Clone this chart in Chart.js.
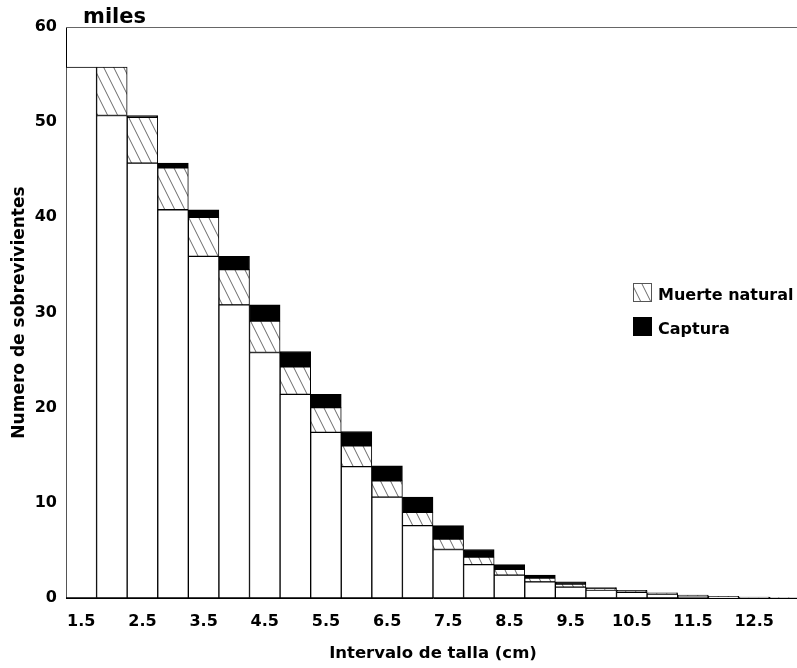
<!DOCTYPE html>
<html>
<head>
<meta charset="utf-8">
<script src="https://cdn.jsdelivr.net/npm/chart.js@4.4.1/dist/chart.umd.min.js"></script>
<style>
  body { margin: 0; background: #fff; overflow: hidden; }
  #wrap { width: 797px; height: 668px; overflow: hidden; }
</style>
</head>
<body>
<div id="wrap"><canvas id="myChart" width="800" height="668"></canvas></div>
<script>
// talla (cm), one bar per 0.5 cm class
const tallas = ["1.5","2.0","2.5","3.0","3.5","4.0","4.5","5.0","5.5","6.0","6.5","7.0",
  "7.5","8.0","8.5","9.0","9.5","10.0","10.5","11.0","11.5","12.0","12.5","13.0"];

// miles de individuos
const sobrevivientes = [55.8, 50.7, 45.7, 40.8, 35.9, 30.8, 25.8, 21.4, 17.4, 13.8, 10.6, 7.6,
  5.1, 3.5, 2.4, 1.7, 1.15, 0.84, 0.6, 0.4, 0.22, 0.12, 0.06, 0.03];
const muerteNatural = [0, 5.1, 4.8, 4.4, 4.1, 3.7, 3.3, 2.9, 2.6, 2.2, 1.7, 1.4,
  1.1, 0.8, 0.6, 0.4, 0.3, 0.12, 0.1, 0.07, 0.04, 0.03, 0.02, 0.01];
const captura = [0, 0, 0.2, 0.5, 0.8, 1.4, 1.7, 1.6, 1.4, 1.5, 1.6, 1.6,
  1.4, 0.8, 0.5, 0.3, 0.25, 0.14, 0.1, 0.07, 0.04, 0.03, 0.02, 0.01];

const yTicks = [0, 10, 20, 30, 40, 50, 60];

const FONT = "'DejaVu Sans', sans-serif";

function makeHatch() {
  const c = document.createElement("canvas");
  c.width = 10;
  c.height = 20;
  const g = c.getContext("2d");
  g.fillStyle = "#fff";
  g.fillRect(0, 0, 10, 20);
  g.strokeStyle = "#444";
  g.lineWidth = 0.8;
  g.beginPath();
  g.moveTo(-1, -2); g.lineTo(11, 22);
  g.moveTo(-11, -2); g.lineTo(1, 22);
  g.moveTo(9, -2); g.lineTo(21, 22);
  g.stroke();
  return g.createPattern(c, "repeat");
}

const ctx = document.getElementById("myChart").getContext("2d");
const hatch = makeHatch();

const extras = {
  id: "extras",
  afterDraw(chart) {
    const c = chart.ctx;
    const a = chart.chartArea;
    c.save();
    // top frame line
    c.strokeStyle = "#666";
    c.lineWidth = 1;
    c.beginPath();
    c.moveTo(a.left, a.top + 0.5);
    c.lineTo(a.right, a.top + 0.5);
    c.stroke();
    // unit label
    c.fillStyle = "#000";
    c.font = "bold 21px " + FONT;
    c.textBaseline = "alphabetic";
    c.textAlign = "left";
    c.fillText("miles", 83, 23);
    // legend
    c.fillStyle = hatch;
    c.fillRect(633, 283, 18, 18);
    c.strokeStyle = "#555";
    c.strokeRect(633.5, 283.5, 18, 18);
    c.fillStyle = "#000";
    c.fillRect(633, 317, 19, 19);
    c.font = "bold 16px " + FONT;
    c.textBaseline = "middle";
    c.fillText("Muerte natural", 658, 296);
    c.fillText("Captura", 658, 330);
    c.restore();
  }
};

new Chart(ctx, {
  type: "bar",
  data: {
    labels: tallas,
    datasets: [
      {
        label: "Sobrevivientes",
        data: sobrevivientes,
        backgroundColor: "#fff",
        borderColor: "#000",
        borderWidth: 1,
        borderSkipped: false
      },
      {
        label: "Muerte natural",
        data: muerteNatural,
        backgroundColor: hatch,
        borderColor: "#000",
        borderWidth: 1,
        borderSkipped: false
      },
      {
        label: "Captura",
        data: captura,
        backgroundColor: "#000",
        borderColor: "#000",
        borderWidth: 1,
        borderSkipped: false
      }
    ]
  },
  options: {
    responsive: false,
    animation: false,
    layout: { padding: { top: 27, right: 0, left: 0, bottom: 0 } },
    datasets: { bar: { categoryPercentage: 1, barPercentage: 1 } },
    plugins: {
      legend: { display: false },
      tooltip: { enabled: false }
    },
    scales: {
      x: {
        stacked: true,
        grid: { display: false, drawTicks: false },
        border: { display: true, color: "#000", width: 1 },
        ticks: {
          autoSkip: false,
          maxRotation: 0,
          padding: 14,
          color: "#000",
          font: { family: FONT, size: 16, weight: "bold" },
          callback: function (v, i) { return i % 2 === 0 ? tallas[i] : ""; }
        },
        title: {
          display: true,
          text: "Intervalo de talla (cm)",
          color: "#000",
          font: { family: FONT, size: 16.5, weight: "bold" },
          padding: { top: 12 }
        },
        afterFit(scale) { scale.height = 70; }
      },
      y: {
        stacked: true,
        min: 0,
        max: 60,
        afterBuildTicks(scale) { scale.ticks = yTicks.map(v => ({ value: v })); },
        grid: { display: false, drawTicks: false },
        border: { display: true, color: "#000", width: 1 },
        ticks: {
          padding: 9,
          color: "#000",
          font: { family: FONT, size: 16, weight: "bold" }
        },
        title: {
          display: true,
          text: "Numero de sobrevivientes",
          color: "#000",
          font: { family: FONT, size: 17, weight: "bold" },
          padding: { bottom: 0, top: 9 }
        },
        afterFit(scale) { scale.width = 66; }
      }
    }
  },
  plugins: [extras]
});
</script>
</body>
</html>
